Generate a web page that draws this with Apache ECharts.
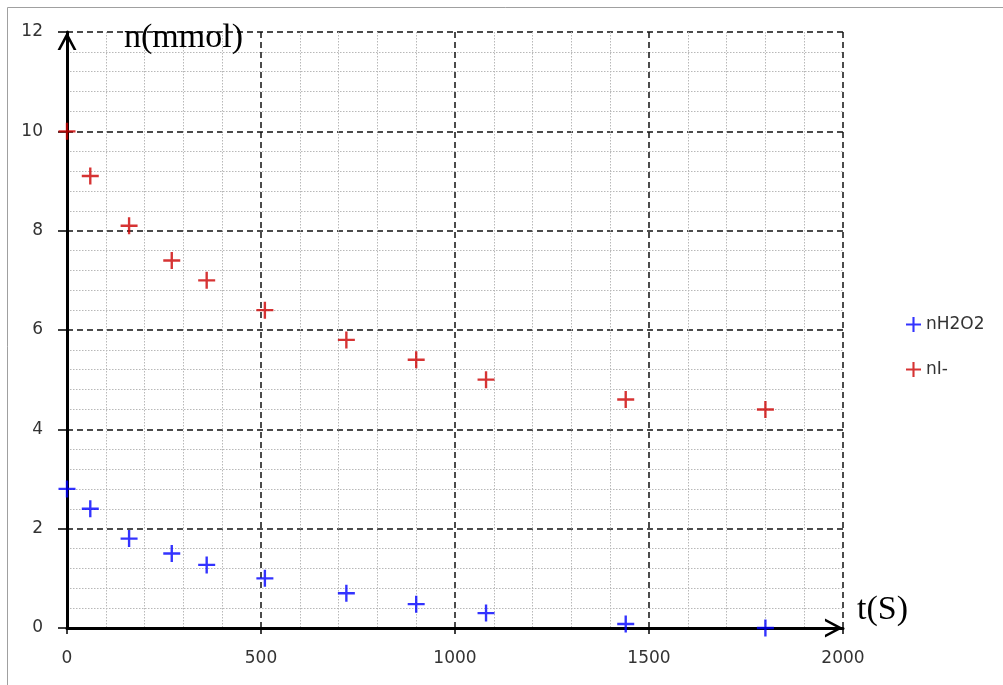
<!DOCTYPE html>
<html>
<head>
<meta charset="utf-8">
<script src="https://cdn.jsdelivr.net/npm/echarts@6/dist/echarts.min.js"></script>
<style>
html,body{margin:0;padding:0;background:#fff;}
#chart{width:1003px;height:685px;}
</style>
</head>
<body>
<div id="chart"></div>
<script>
var times = [0, 60, 160, 270, 360, 510, 720, 900, 1080, 1440, 1800];
var nH2O2 = [2.8, 2.4, 1.8, 1.5, 1.27, 1.0, 0.7, 0.48, 0.3, 0.08, 0];
var nI = [10, 9.1, 8.1, 7.4, 7.0, 6.4, 5.8, 5.4, 5.0, 4.6, 4.4];
var seriesNames = ['nH2O2', 'nI-'];
var xTitle = 't(S)';
var yTitle = 'n(mmol)';

function pairs(xs, ys) { return xs.map(function (x, i) { return [x, ys[i]]; }); }

var plus = 'path://M0,8.6 L20,8.6 L20,11.4 L0,11.4 Z M8.6,0 L11.4,0 L11.4,20 L8.6,20 Z';
var chevron = 'path://M0,19 L10,0 L20,19 L17,19 L10,5.7 L3,19 Z';

var chart = echarts.init(document.getElementById('chart'));
chart.setOption({
  animation: false,
  backgroundColor: '#fff',
  graphic: [{
    type: 'rect', left: 5, top: 5, z: -10,
    shape: { width: 1010, height: 700 },
    style: { fill: 'none', stroke: '#a0a0a0', lineWidth: 1 }
  }],
  title: [
    { text: yTitle, left: 124, top: 21,
      textStyle: { fontFamily: 'Liberation Serif', fontSize: 34, fontWeight: 'normal', color: '#000', backgroundColor: '#fff' },
      padding: 0 },
    { text: xTitle, left: 857, top: 593,
      textStyle: { fontFamily: 'Liberation Serif', fontSize: 34, fontWeight: 'normal', color: '#000' },
      padding: 0 }
  ],
  legend: {
    orient: 'vertical', left: 901, top: 311, itemGap: 28,
    itemWidth: 15, itemHeight: 15,
    textStyle: { fontFamily: 'DejaVu Sans', fontSize: 17, color: '#333' },
    data: [{ name: seriesNames[0], icon: plus }, { name: seriesNames[1], icon: plus }]
  },
  grid: { left: 67, top: 32, width: 776, height: 596, containLabel: false },
  xAxis: {
    type: 'value', min: 0, max: 2000, interval: 500,
    axisLine: { show: true, symbol: ['none', chevron], symbolSize: [19, 19], symbolOffset: [0, -9],
      lineStyle: { color: '#000', width: 3 } },
    axisTick: { show: true, length: 6, lineStyle: { color: '#000', width: 1.5 } },
    axisLabel: { margin: 22, fontFamily: 'DejaVu Sans', fontSize: 17, color: '#333',
      formatter: function (v) { return String(v); } },
    minorTick: { show: false, splitNumber: 5 },
    splitLine: { show: true, lineStyle: { color: '#111', width: 1.5, type: [6, 4] } },
    minorSplitLine: { show: true, lineStyle: { color: '#b8b8b8', width: 1, type: [1.5, 1.5] } }
  },
  yAxis: {
    type: 'value', min: 0, max: 12, interval: 2,
    axisLine: { show: true, symbol: ['none', chevron], symbolSize: [19, 19], symbolOffset: [0, -9],
      lineStyle: { color: '#000', width: 3 } },
    axisTick: { show: true, length: 9, lineStyle: { color: '#000', width: 1.5 } },
    axisLabel: { margin: 24, fontFamily: 'DejaVu Sans', fontSize: 17, color: '#333' },
    minorTick: { show: false, splitNumber: 5 },
    splitLine: { show: true, lineStyle: { color: '#111', width: 1.5, type: [6, 4] } },
    minorSplitLine: { show: true, lineStyle: { color: '#b8b8b8', width: 1, type: [1.5, 1.5] } }
  },
  series: [
    { name: seriesNames[0], type: 'scatter', symbol: plus, symbolSize: 17,
      itemStyle: { color: '#0000ff' }, data: pairs(times, nH2O2), z: 5 },
    { name: seriesNames[1], type: 'scatter', symbol: plus, symbolSize: 17,
      itemStyle: { color: '#cc0000' }, data: pairs(times, nI), z: 5 }
  ]
});
</script>
</body>
</html>
